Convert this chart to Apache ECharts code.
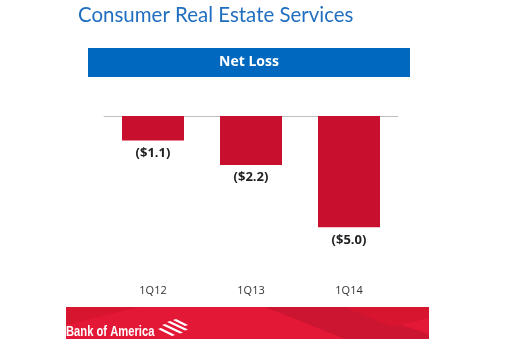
<!DOCTYPE html>
<html>
<head>
<meta charset="utf-8">
<script src="https://cdn.jsdelivr.net/npm/echarts@6/dist/echarts.min.js"></script>
<style>
  html, body { margin: 0; padding: 0; background: #fff; }
  #chart { width: 515px; height: 351px; }
</style>
</head>
<body>
<div id="chart"></div>
<script>
const categories = ["1Q12", "1Q13", "1Q14"];
const netLoss = [-1.1, -2.2, -5.0];
const valueLabels = ["($1.1)", "($2.2)", "($5.0)"];

const chart = echarts.init(document.getElementById("chart"));

// flag stripes of the footer logo, slanting down to the right
const stripe = (x, y, len) => ({
  type: "polygon",
  shape: { points: [[x, y], [x + 3, y - 1], [x + 3 + len, y + len * 0.42], [x + len, y + len * 0.42 + 1]] },
  style: { fill: "#fff" },
});

chart.setOption({
  animation: false,
  backgroundColor: "#ffffff",
  grid: { left: 104, right: 117, top: 116, bottom: 68 },
  xAxis: [
    {
      type: "category",
      data: categories,
      position: "bottom",
      axisLine: { show: false },
      axisTick: { show: false },
      axisLabel: { color: "#333", fontSize: 11, fontFamily: "Open Sans", margin: 2 },
    },
    {
      type: "category",
      data: categories,
      position: "top",
      axisLine: { lineStyle: { color: "#c0c0c0", width: 1 } },
      axisTick: { length: 4, lineStyle: { color: "#c0c0c0" } },
      axisLabel: { show: false },
    },
  ],
  yAxis: {
    type: "value",
    min: -7.5,
    max: 0,
    show: false,
    splitLine: { show: false },
  },
  series: [
    {
      type: "bar",
      data: netLoss,
      barWidth: 62,
      itemStyle: { color: "#c8102e" },
      label: {
        show: true,
        position: "bottom",
        distance: 6,
        color: "#222",
        fontSize: 13,
        fontWeight: "bold",
        fontFamily: "Open Sans",
        formatter: (p) => valueLabels[p.dataIndex],
      },
    },
  ],
  graphic: [
    {
      type: "text",
      x: 78,
      y: 4,
      scaleX: 0.93,
      style: {
        text: "Consumer Real Estate Services",
        fill: "#1f6ebf",
        font: "22px Lato",
      },
    },
    {
      type: "rect",
      shape: { x: 88, y: 48, width: 322, height: 29 },
      style: { fill: "#0068bf" },
    },
    {
      type: "text",
      x: 249,
      y: 62.5,
      style: {
        text: "Net Loss",
        fill: "#fff",
        font: "bold 14px 'Open Sans'",
        align: "center",
        verticalAlign: "middle",
      },
    },
    {
      type: "rect",
      shape: { x: 66, y: 307, width: 363, height: 32 },
      style: { fill: "#e31837" },
    },
    {
      type: "polygon",
      shape: { points: [[66, 307], [140, 307], [66, 325]] },
      style: { fill: "#d8152f" },
    },
    {
      type: "polygon",
      shape: { points: [[265, 307], [345, 307], [429, 334], [429, 339], [345, 339]] },
      style: { fill: "#cc1530" },
    },
    {
      type: "polygon",
      shape: { points: [[345, 307], [429, 307], [429, 318], [392, 327]] },
      style: { fill: "#d8152f" },
    },
    {
      type: "text",
      x: 66,
      y: 332,
      scaleX: 0.8,
      style: {
        text: "Bank of America",
        fill: "#fff",
        font: "bold 14px 'Liberation Sans'",
        verticalAlign: "middle",
      },
    },
    stripe(158, 329, 14),
    stripe(162, 325, 18),
    stripe(167, 322, 18),
    stripe(173, 320, 12),
  ],
});
</script>
</body>
</html>
